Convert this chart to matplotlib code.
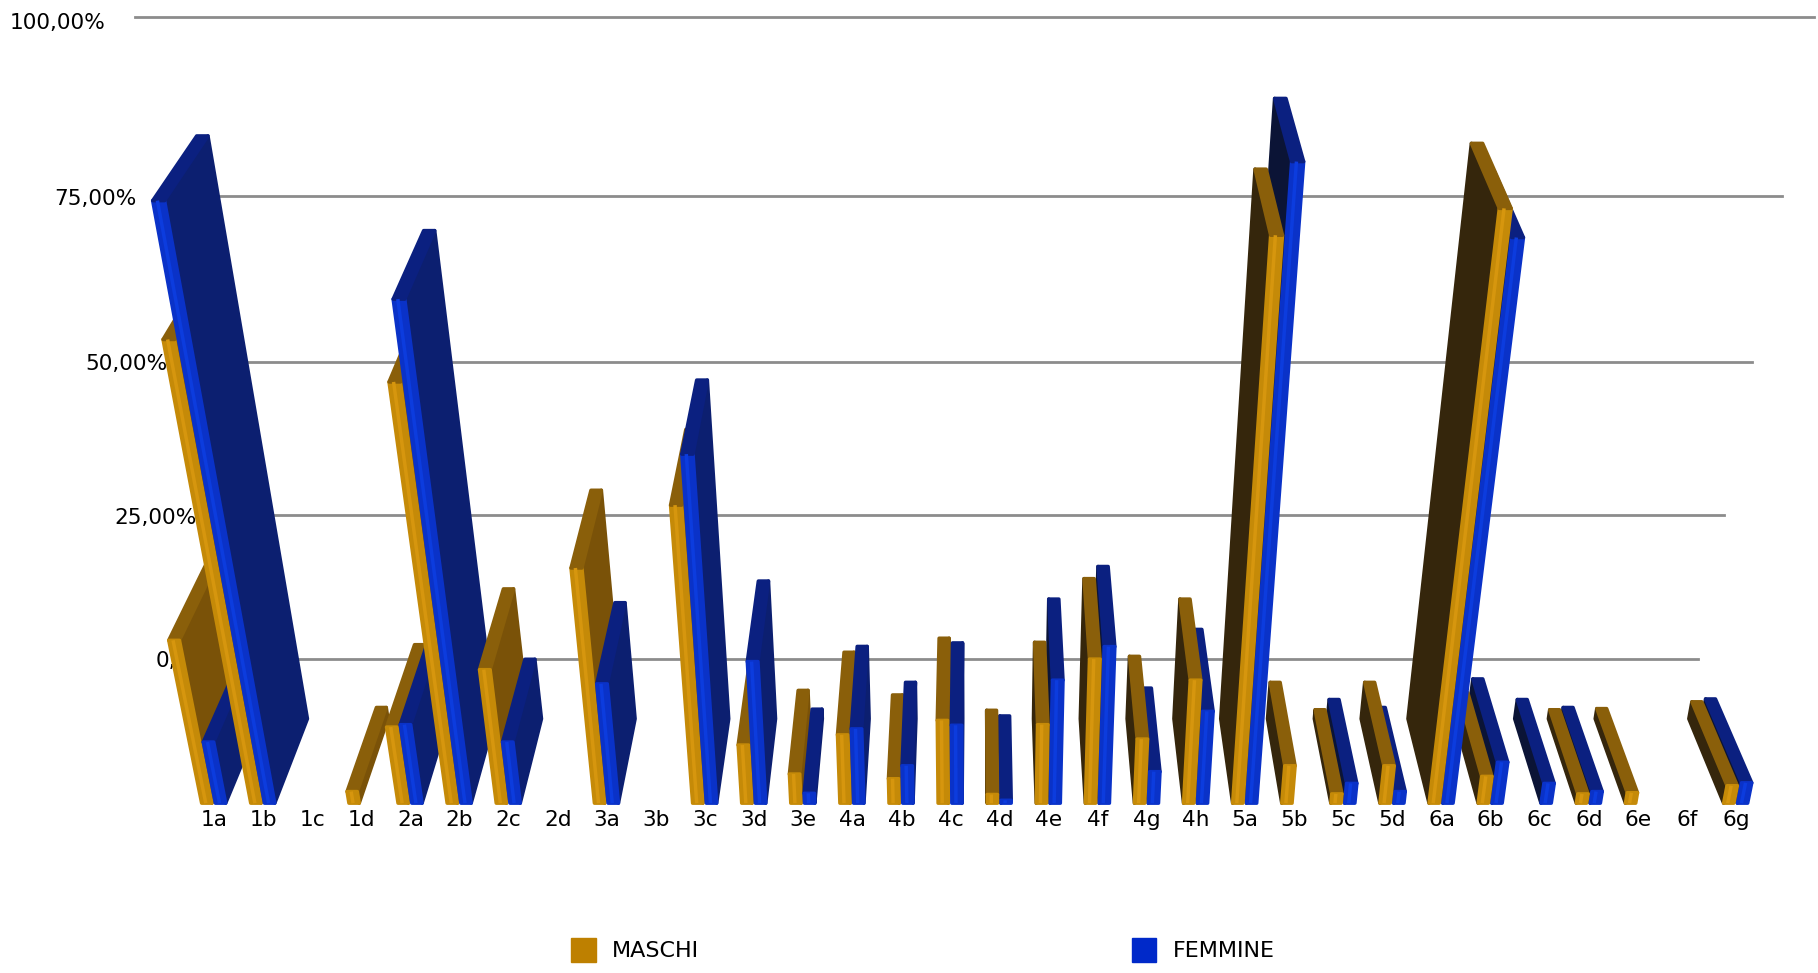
import numpy as np
import matplotlib
matplotlib.use('Agg')
import matplotlib.pyplot as plt
from matplotlib.patches import Patch
from mpl_toolkits.mplot3d import proj3d

# data (percent)
labels = ['1a','1b','1c','1d','2a','2b','2c','2d','3a','3b','3c','3d','3e',
          '4a','4b','4c','4d','4e','4f','4g','4h','5a','5b','5c','5d',
          '6a','6b','6c','6d','6e','6f','6g']
maschi = [27,71.5,0,2,12.9,65.6,22.3,0,38.3,0,47.8,9.9,5,
          11.6,4.2,14,1.5,13.3,24,10.9,20.6,85.5,6.4,1.6,6.4,
          89,4.6,0,1.6,1.8,0,3]
femmine = [10.4,90,0,0,13.3,77,10.4,0,20,0,55.3,23.6,1.7,
           12.6,6.4,13.2,0.5,20.6,26,5.4,15.5,95,0,3.4,2,
           85.2,7,3.4,2,0,0,3.5]
ticks = [0,25,50,75,100]
tick_labels = ['0,00%','25,00%','50,00%','75,00%','100,00%']

fig = plt.figure(figsize=(18.18,9.73), dpi=100)
W, H = 1818.0, 973.0
side = 1892.7
ax = fig.add_axes([4.2/W, -485.9/H, side/W, side/H], projection='3d', computed_zorder=False)
ax.set_axis_off()
ax.patch.set_alpha(0)

# camera settings fitted to the vanishing points of the picture
ax.set_xlim(15.5-16.743, 15.5+16.743)
ax.set_ylim(0, 0.1308)
ax.set_zlim(-31.1, 105.3)
ax.set_box_aspect((0.66,0.1308,0.4), zoom=1)
ax.set_proj_type('persp', focal_length=0.24354)
ax.view_init(elev=30.98, azim=-90)

wall = 0.1012
depth = 0.057
bw = 0.21
pitch = 0.14
shift = -0.03

def put_text(x, y, z, s, **kw):
    # plain 2d text at the place the 3d point lands on
    xs, ys, _ = proj3d.proj_transform(x, y, z, ax.get_proj())
    ax.text2D(xs, ys, s, transform=ax.transData, color='black', zorder=2, **kw)

# grid on the back wall and value labels
for t, lab in zip(ticks, tick_labels):
    ax.plot([-0.53,31.48],[wall,wall],[t,t],color='#8c8c8c',lw=2,zorder=1)
    put_text(-1.15+(0.05 if t==100 else 0),wall,t-(0.5 if t==100 else 0.1),lab,
             ha='right',va='center_baseline',fontsize=15.6)

for i, lab in enumerate(labels):
    put_text(15.5+(i-15.5)*1.0045-0.02,0,-2.9,lab,ha='center',va='center',fontsize=15.6)

none = (0,0,0,0)
bars = []
for i in range(len(labels)):
    bars.append((i+shift-pitch, maschi[i], '#c58a08', '#8a5f0a', '#7a5208', '#35260c', '#d6960e'))
    bars.append((i+shift+pitch, femmine[i], '#0a32c8', '#0b2080', '#0c1f70', '#0b1436', '#0c3cde'))
# outer bars first, so the ones near the middle cover them
bars.sort(key=lambda b: -abs(b[0]-15.5))

z = 10
for xc, val, front, top, right_face, left_face, light in bars:
    if val <= 0:
        continue
    # faces: bottom, top, front, back, left, right
    if xc < 15.5:
        cols = [none, top, front, none, none, right_face]
    else:
        cols = [none, top, front, none, left_face, none]
    ax.bar3d(xc-bw/2,0,0,bw,depth,val,color=cols,edgecolor=cols,linewidth=2.5,shade=False,
             joinstyle='round',zorder=z)
    ax.plot([xc-bw*0.1]*2,[0,0],[0,val],color=light,lw=2.5,solid_capstyle='butt',zorder=z+0.5)
    z += 1

handles = [Patch(color='#be8000',label='MASCHI'), Patch(color='#0029c9',label='FEMMINE')]
fig.legend(handles=handles,loc='center',bbox_to_anchor=(923/W,1-950/H),ncol=2,frameon=False,
           fontsize=16,handlelength=1.1,handleheight=1.25,handletextpad=0.75,columnspacing=19.45,
           borderpad=0,borderaxespad=0)

fig.savefig('out.png',dpi=100)
